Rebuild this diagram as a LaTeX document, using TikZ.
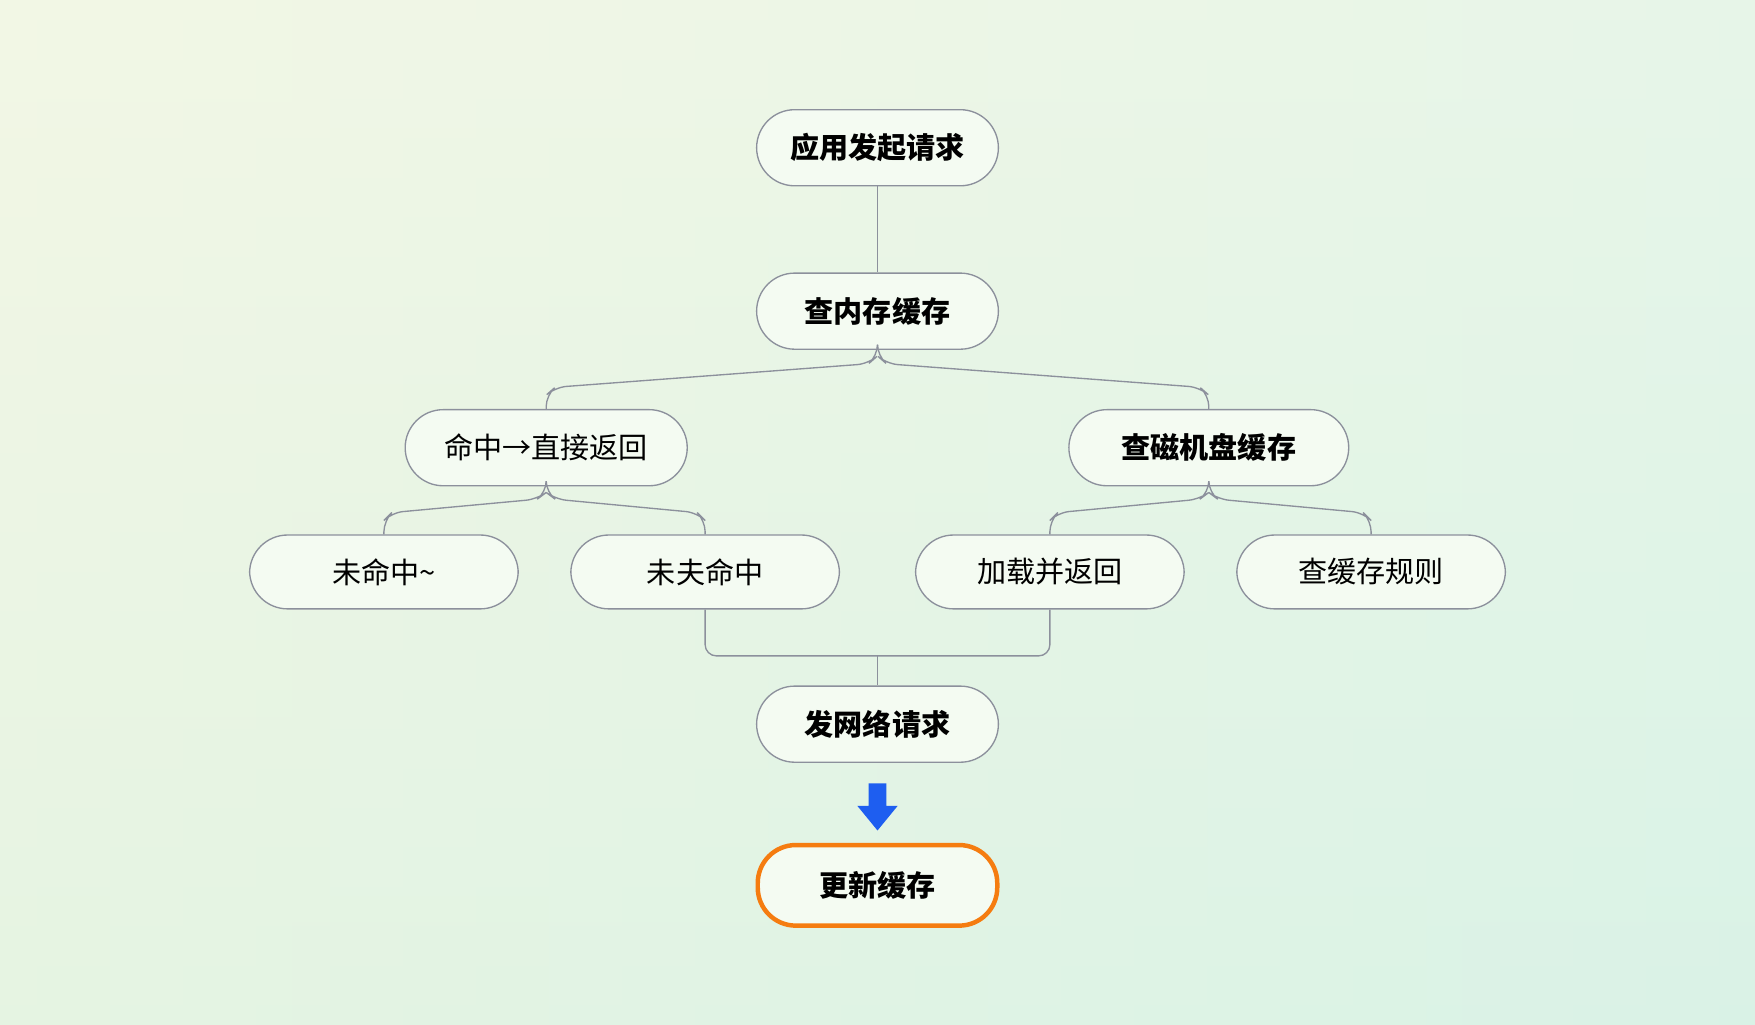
\documentclass[tikz,border=0pt]{standalone}
\usepackage{fontspec}
\setmainfont{Noto Sans CJK SC}
\definecolor{ln}{HTML}{8C909C}
\definecolor{nf}{HTML}{F4FBF2}
\definecolor{org}{HTML}{F57C10}
\definecolor{blu}{HTML}{1E5EF0}
\definecolor{cul}{RGB}{246,247,228}
\definecolor{cur}{RGB}{222,244,236}
\definecolor{ctop}{RGB}{240,247,230}
\definecolor{cbot}{RGB}{214,242,226}
\begin{document}
\begin{tikzpicture}[x=0.5pt,y=-0.5pt,
 box/.style={draw=ln,line width=0.6pt,fill=nf,rounded corners=17pt,minimum height=34pt,inner sep=0pt,font=\fontsize{13}{15}\selectfont},
 bb/.style={box,font=\fontsize{13}{15}\selectfont\bfseries},
 con/.style={draw=ln,line width=0.6pt,rounded corners=5pt}]
\useasboundingbox (0,0) rectangle (1568,915);
\shade[left color=cul,right color=cur] (0,0) rectangle (1568,915);
\shade[top color=ctop,bottom color=cbot,opacity=0.5] (0,0) rectangle (1568,915);
\node[bb,minimum width=108pt] (a) at (784,132) {应用发起请求};
\node[bb,minimum width=108pt] (b) at (784,278) {查内存缓存};
\node[box,minimum width=126pt] (c) at (488,400) {命中→直接返回};
\node[bb,minimum width=125pt] (d) at (1080,400) {查磁机盘缓存};
\node[box,minimum width=120pt,minimum height=33pt] (e) at (343,511) {未命中\textasciitilde};
\node[box,minimum width=120pt,minimum height=33pt] (f) at (630,511) {未夫命中};
\node[box,minimum width=120pt,minimum height=33pt] (g) at (938,511) {加载并返回};
\node[box,minimum width=120pt,minimum height=33pt] (h) at (1225,511) {查缓存规则};
\node[bb,minimum width=108pt] (i) at (784,647) {发网络请求};
\node[bb,minimum width=107pt,minimum height=36pt,draw=org,line width=2pt] (j) at (784,791) {更新缓存};
\draw[con] (a) -- (b);
\draw[con] (b.south) -- (784,318) -- (776,325) -- (496,346) -- (488,353) -- (c.north);
\draw[con] (b.south) -- (784,318) -- (792,325) -- (1072,346) -- (1080,353) -- (d.north);
\draw[con] (c.south) -- (488,440) -- (480,446) -- (350,458) -- (343,465) -- (e.north);
\draw[con] (c.south) -- (488,440) -- (496,446) -- (623,458) -- (630,465) -- (f.north);
\draw[con] (d.south) -- (1080,440) -- (1072,446) -- (945,458) -- (938,465) -- (g.north);
\draw[con] (d.south) -- (1080,440) -- (1088,446) -- (1218,458) -- (1225,465) -- (h.north);
\draw[con] (f.south) -- (630,586) -- (938,586) -- (g.south);
\draw[con] (784,586) -- (i.north);
\fill[blu] (776,700) -- (792,700) -- (792,720) -- (802,720) -- (784,742) -- (766,720) -- (776,720) -- cycle;
\end{tikzpicture}
\end{document}
